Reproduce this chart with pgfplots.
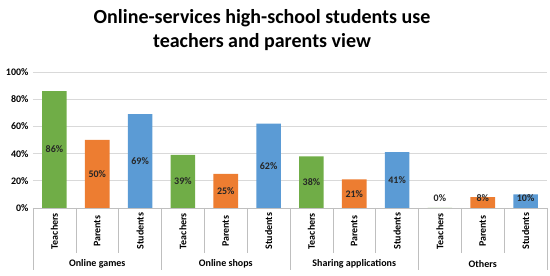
\documentclass[border=0pt]{standalone}
\usepackage{pgfplots}
\usepackage{pgfplotstable}
\pgfplotsset{compat=1.18}
\usepackage{fontspec}
\setmainfont{Carlito}
\definecolor{cgreen}{HTML}{70AD47}
\definecolor{corange}{HTML}{ED7D31}
\definecolor{cblue}{HTML}{5B9BD5}
\definecolor{gridc}{HTML}{D9D9D9}
\definecolor{sepc}{HTML}{BFBFBF}
\pgfplotstableread{
x v
0 86
1 50
2 69
3 39
4 25
5 62
6 38
7 21
8 41
9 0
10 8
11 10
}\labeldata
\begin{document}
\begin{tikzpicture}
\path[use as bounding box] (-33pt,-68pt) rectangle (517pt,208pt);
\node[font=\bfseries\fontsize{20}{24}\selectfont, align=center] at (229pt,178pt) {Online-services high-school students use\\teachers and parents view};
\begin{axis}[at={(0,0)}, anchor=south west, scale only axis, width=514pt, height=136pt,
  xmin=-0.5, xmax=11.5, ymin=0, ymax=100,
  axis line style={draw=none},
  ymajorgrids, grid style={color=gridc, line width=0.6pt},
  major tick length=0pt,
  ytick={0,20,...,100}, yticklabels={0\%,20\%,40\%,60\%,80\%,100\%},
  xtick={0,...,11},
  xticklabels={Teachers,Parents,Students,Teachers,Parents,Students,Teachers,Parents,Students,Teachers,Parents,Students},
  ticklabel style={font=\bfseries\fontsize{10}{12}\selectfont},
  yticklabel style={xshift=-1pt},
  xticklabel style={rotate=90, anchor=east, inner sep=0pt, text width=40pt, align=center},
  xticklabel shift=3pt,
  /pgf/number format/assume math mode=true,
  ybar, bar width=24.6pt, bar shift=0pt,
  clip=false, enlarge x limits=false]
\addplot[fill=cgreen, draw=none] coordinates {(0,86) (3,39) (6,38) (9,0)};
\addplot[fill=corange, draw=none] coordinates {(1,50) (4,25) (7,21) (10,8)};
\addplot[fill=cblue, draw=none] coordinates {(2,69) (5,62) (8,41) (11,10)};
\addplot[draw=none, fill=none, point meta=\thisrow{v},
  nodes near coords={\pgfmathprintnumber{\pgfplotspointmeta}\%},
  nodes near coords style={anchor=center, font=\bfseries\fontsize{10}{12}\selectfont, text=black!85}]
  table[x=x, y expr={max(\thisrow{v}/2,7)}] {\labeldata};
\draw[sepc, line width=0.6pt] (rel axis cs:0,0) -- (rel axis cs:1,0);
\end{axis}
\begin{scope}[sepc, line width=0.6pt]
\foreach \X in {42.83,85.67,171.33,214.17,299.83,342.67,428.33,471.17}
  \draw (\X pt,0pt) -- (\X pt,-45pt);
\foreach \X in {0,128.5,257,385.5,514}
  \draw (\X pt,0pt) -- (\X pt,-62pt);
\end{scope}
\begin{scope}[font=\bfseries\fontsize{10}{12}\selectfont]
\node at (64.25pt,-56pt) {Online games};
\node at (192.75pt,-56pt) {Online shops};
\node at (321.25pt,-56pt) {Sharing applications};
\node at (449.75pt,-56pt) {Others};
\end{scope}
\end{tikzpicture}
\end{document}
